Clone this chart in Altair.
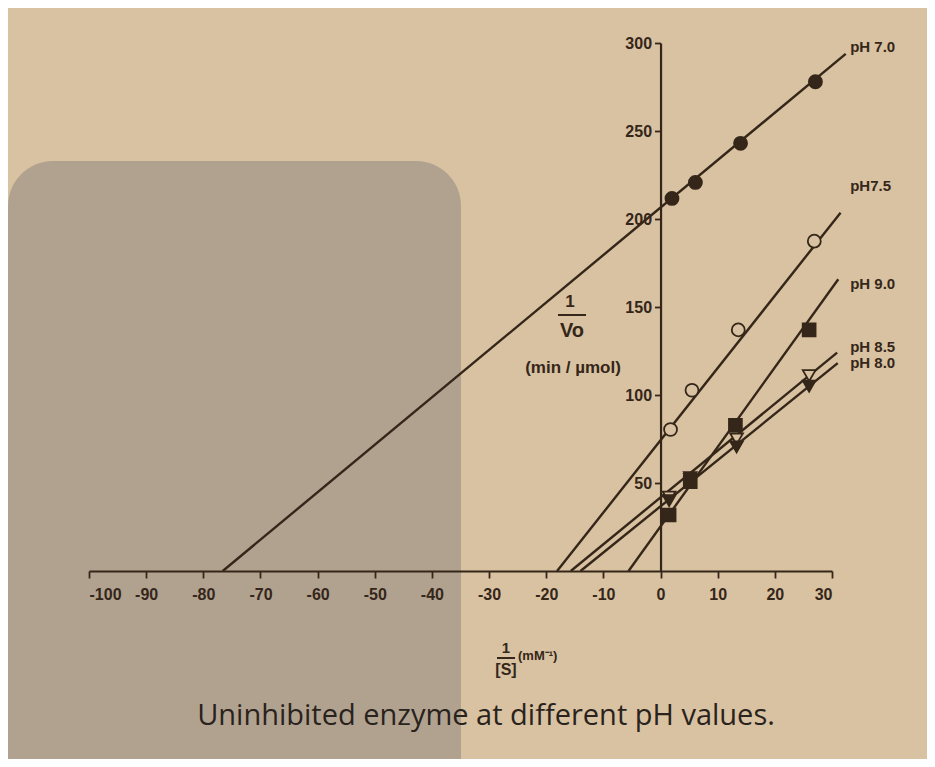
import altair as alt
import pandas as pd

# ---- data ----
series = ["pH 7.0", "pH7.5", "pH 9.0", "pH 8.5", "pH 8.0"]
x_int = [-76.6, -18.1, -5.6, -15.7, -14.0]      # x-intercepts (-1/Km)
y_int = [206.5, 74.3, 25.3, 41.8, 36.75]         # y-intercepts (1/Vmax)
x_end = [32.4, 31.5, 31.1, 30.9, 31.0]           # where drawn lines stop
pt_x = {
    "pH 7.0": [2.0, 6.1, 14.0, 27.1],
    "pH7.5": [1.75, 5.5, 13.6, 26.9],
    "pH 9.0": [1.5, 5.2, 13.1, 26.0],
    "pH 8.5": [1.5, 5.2, 13.3, 26.0],
    "pH 8.0": [1.5, 5.2, 13.3, 26.0],
}
pt_y = {
    "pH 7.0": [211.7, 220.8, 243.0, 278.0],
    "pH7.5": [80.4, 102.7, 137.0, 187.4],
    "pH 9.0": [31.8, 50.7, 82.8, 137.0],
    "pH 8.5": [42.0, 53.0, 75.0, 111.0],
    "pH 8.0": [40.0, 52.0, 70.5, 105.0],
}
label_y = [298, 219, 163, 127, 118]
label_x = 33.0
x_ticks = list(range(-100, 31, 10))
y_ticks = [50, 100, 150, 200, 250, 300]

INK = "#35261a"
PAPER = "#d8c2a1"
FONT = "Liberation Sans"

# ---- tables ----
line_rows = []
for s, xi, yi, xe in zip(series, x_int, y_int, x_end):
    line_rows.append({"series": s, "x": xi, "y": 0.0})
    line_rows.append({"series": s, "x": xe, "y": yi * (1 - xe / xi)})
lines_df = pd.DataFrame(line_rows)

pt_rows = []
for s in series:
    for a, b in zip(pt_x[s], pt_y[s]):
        pt_rows.append({"series": s, "x": a, "y": b})
pts_df = pd.DataFrame(pt_rows)

lab_df = pd.DataFrame({"series": series, "x": [label_x] * 5, "y": label_y})

W, H = 743, 528
xs = alt.Scale(domain=[-100, 30], nice=False, zero=False)
ys = alt.Scale(domain=[0, 300], nice=False)

# decorative shadow from the photo
shadow = alt.Chart(pd.DataFrame({"a": [0]})).mark_rect(
    color="#ad9f8e", cornerRadius=45, opacity=0.9
).encode(
    x=alt.value(-81), x2=alt.value(372), y=alt.value(118), y2=alt.value(760)
)

base_axes = alt.Chart(lines_df).mark_line(strokeWidth=2.4, color=INK).encode(
    x=alt.X("x:Q", scale=xs, title=None,
            axis=alt.Axis(values=x_ticks, labelExpr="'' + datum.value", grid=False,
                          zindex=1, domainColor=INK, domainWidth=2.2, tickColor=INK,
                          tickWidth=1.8, tickSize=7, labelColor=INK,
                          labelFont=FONT, labelFontWeight="bold",
                          labelFontSize=16, labelPadding=8)),
    y=alt.Y("y:Q", scale=ys, title=None,
            axis=alt.Axis(values=y_ticks, grid=False, offset=-W * 100 / 130, zindex=1,
                          domainColor=INK, domainWidth=2.2, tickColor=INK, tickWidth=1.8,
                          tickSize=6, labelColor=INK, labelFont=FONT,
                          labelFontWeight="bold", labelFontSize=16, labelPadding=3)),
    detail="series:N",
)

shape_scale = alt.Scale(domain=series,
                        range=["circle", "circle", "square", "triangle-down", "triangle-down"])
fill_scale = alt.Scale(domain=series, range=[INK, PAPER, INK, PAPER, INK])
size_scale = alt.Scale(domain=series, range=[170, 160, 120, 130, 130])

points = alt.Chart(pts_df).mark_point(filled=True, stroke=INK, strokeWidth=1.8, opacity=1).encode(
    x=alt.X("x:Q", scale=xs),
    y=alt.Y("y:Q", scale=ys),
    shape=alt.Shape("series:N", scale=shape_scale, legend=None),
    fill=alt.Fill("series:N", scale=fill_scale, legend=None),
    size=alt.Size("series:N", scale=size_scale, legend=None),
)

labels = alt.Chart(lab_df).mark_text(
    align="left", baseline="middle", font=FONT, fontWeight="bold",
    fontSize=15, color=INK, dx=1
).encode(x=alt.X("x:Q", scale=xs), y=alt.Y("y:Q", scale=ys), text="series:N")

def txt(t, x, y, size=12, weight="bold", font=FONT, color=INK, align="center"):
    return alt.Chart(pd.DataFrame({"t": [t]})).mark_text(
        font=font, fontSize=size, fontWeight=weight, color=color, align=align,
        baseline="middle"
    ).encode(text="t:N", x=alt.value(x), y=alt.value(y))

def bar(x1, x2, y):
    return alt.Chart(pd.DataFrame({"a": [0]})).mark_rule(color=INK, strokeWidth=2).encode(
        x=alt.value(x1), x2=alt.value(x2), y=alt.value(y))

annot = [
    txt("1", 481, 259, size=17),
    bar(469, 497, 272),
    txt("Vo", 483, 288, size=20),
    txt("(min / µmol)", 484, 325, size=17),
    txt("1", 417, 605, size=15),
    bar(408, 426, 615),
    txt("[S]", 417, 627, size=16),
    txt("(mM⁻¹)", 429, 613, size=13, align="left"),
    txt("Uninhibited enzyme at different pH values.", 397, 673, size=29,
        weight="normal", font="Open Sans", color="#2a221c"),
]

chart = alt.layer(shadow, base_axes, points, labels, *annot).properties(
    width=W, height=H,
    padding={"left": 81, "top": 35, "right": 95, "bottom": 188},
    autosize="none",
).configure(background=PAPER).configure_view(stroke=None)

chart.save("out.html", embed_options={"renderer": "svg", "actions": False})
